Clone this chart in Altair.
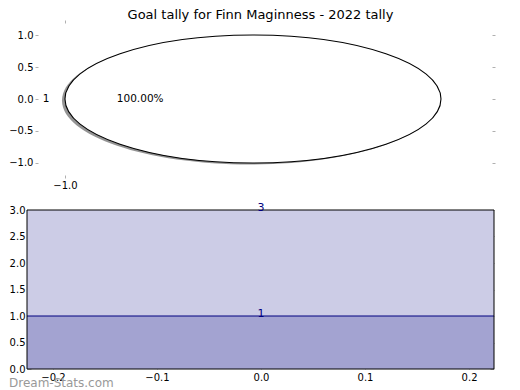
import altair as alt
import pandas as pd

TITLE = "Goal tally for Finn Maginness - 2022 tally"
WATERMARK = "Dream-Stats.com"

# pie data (one slice)
slice_labels = ["1"]
slice_values = [1]

# bottom panel levels
level_values = [1, 3]
level_labels = ["1", "3"]

top_x_ticks = [-1.0]
top_y_ticks = [-1.0, -0.5, 0.0, 0.5, 1.0]
bottom_x_ticks = [-0.2, -0.1, 0.0, 0.1, 0.2]
bottom_y_ticks = [0.0, 0.5, 1.0, 1.5, 2.0, 2.5, 3.0]

top_x_domain = [-1.202, 1.282]
top_y_domain = [-1.219, 1.219]
bottom_x_domain = [-0.225, 0.224]
bottom_y_domain = [0, 3]

FONT = "DejaVu Sans"
W = 467
H_TOP = 156
H_BOT = 159
NAVY = "#000080"
TICK_GRAY = "#b0b0b0"

ELLIPSE = ("M-1,0C-1,-0.188,-0.5523,-0.3404,0,-0.3404C0.5523,-0.3404,1,-0.188,1,0"
           "C1,0.188,0.5523,0.3404,0,0.3404C-0.5523,0.3404,-1,0.188,-1,0Z")
ELLIPSE_SIZE = 376 * 376

pie_df = pd.DataFrame({"label": slice_labels, "value": slice_values})

pie = (
    alt.Chart(pie_df)
    .transform_joinaggregate(total="sum(value)")
    .transform_window(cum="sum(value)")
    .transform_calculate(
        mid="2*PI*(datum.cum - datum.value/2)/datum.total",
        cx="0",
        cy="0",
        lx="1.1*cos(datum.mid)",
        ly="1.1*sin(datum.mid)",
        px="0.6*cos(datum.mid)",
        py="0.6*sin(datum.mid)",
        pct="format(100*datum.value/datum.total, '.2f') + '%'",
    )
)

tx_scale = alt.Scale(domain=top_x_domain, nice=False, zero=False)
ty_scale = alt.Scale(domain=top_y_domain, nice=False, zero=False)

shadow = pie.mark_point(
    shape=ELLIPSE, filled=True, fill="#4d4d4d", opacity=0.6, strokeWidth=0,
    xOffset=-3, yOffset=1.5,
).encode(
    x=alt.X("cx:Q", scale=tx_scale, axis=alt.Axis(
        orient="bottom", values=top_x_ticks, format=".1f", title=None, domain=False,
        grid=False, tickColor=TICK_GRAY, tickSize=3, offset=-2, labelPadding=2)),
    y=alt.Y("cy:Q", scale=ty_scale, axis=alt.Axis(
        orient="left", values=top_y_ticks, format=".1f", title=None, domain=False,
        grid=False, tickColor=TICK_GRAY, tickSize=3, offset=-11, labelPadding=2)),
    size=alt.value(ELLIPSE_SIZE),
)

ellipse = pie.mark_point(
    shape=ELLIPSE, filled=False, fill="white", fillOpacity=1, stroke="black",
    strokeWidth=1.1, opacity=1,
).encode(
    x=alt.X("cx:Q", scale=tx_scale, axis=alt.Axis(
        orient="top", values=top_x_ticks, labels=False, title=None, domain=False,
        grid=False, tickColor=TICK_GRAY, tickSize=3, offset=-2)),
    y=alt.Y("cy:Q", scale=ty_scale, axis=alt.Axis(
        orient="right", values=top_y_ticks, labels=False, title=None, domain=False,
        grid=False, tickColor=TICK_GRAY, tickSize=3, offset=-2)),
    size=alt.value(ELLIPSE_SIZE),
)

outer_lbl = pie.mark_text(font=FONT, fontSize=10.5, color="black", align="center", baseline="middle").encode(
    x=alt.X("lx:Q", scale=tx_scale, axis=None),
    y=alt.Y("ly:Q", scale=ty_scale, axis=None),
    text="label:N",
)
pct_lbl = pie.mark_text(font=FONT, fontSize=10.5, color="black", align="center", baseline="middle").encode(
    x=alt.X("px:Q", scale=tx_scale, axis=None),
    y=alt.Y("py:Q", scale=ty_scale, axis=None),
    text="pct:N",
)

top = (
    alt.layer(shadow, ellipse, outer_lbl, pct_lbl)
    .resolve_axis(x="independent", y="independent")
    .properties(
        width=W, height=H_TOP,
        title=alt.TitleParams(TITLE, font=FONT, fontSize=13, fontWeight="normal",
                              color="black", anchor="middle", offset=-2),
    )
)

# bottom panel
band_df = pd.DataFrame({"lo": [0] + level_values[:-1], "hi": level_values})
level_df = pd.DataFrame({"value": level_values, "label": level_labels})

bx_scale = alt.Scale(domain=bottom_x_domain, nice=False, zero=False)
by_scale = alt.Scale(domain=bottom_y_domain, nice=False, zero=False)

band_low = alt.Chart(band_df).transform_filter("datum.lo == 0").mark_rect(
    color="#a3a3d1", strokeWidth=0).encode(
    x=alt.value(0), x2=alt.value(W),
    y=alt.Y("lo:Q", scale=by_scale, axis=None), y2="hi:Q",
)
band_high = alt.Chart(band_df).transform_filter("datum.lo > 0").mark_rect(
    color="#ccccE6", strokeWidth=0).encode(
    x=alt.value(0), x2=alt.value(W),
    y=alt.Y("lo:Q", scale=by_scale, axis=None), y2="hi:Q",
)
rule = alt.Chart(level_df).transform_filter(
    alt.datum.value == level_values[0]).mark_rule(color=NAVY, strokeWidth=1).encode(
    y=alt.Y("value:Q", scale=by_scale, axis=None),
)
frame = alt.Chart(level_df).transform_filter(
    alt.datum.value == level_values[0]).mark_rect(
    filled=False, stroke="black", strokeWidth=1, fillOpacity=0).encode(
    x=alt.value(0), x2=alt.value(W), y=alt.value(0), y2=alt.value(H_BOT),
)

levels = alt.Chart(level_df).transform_calculate(tx="0")

lvl_text = levels.mark_text(font=FONT, fontSize=11, color=NAVY, align="center",
                            baseline="middle", dy=-2).encode(
    x=alt.X("tx:Q", scale=bx_scale, axis=alt.Axis(
        orient="bottom", values=bottom_x_ticks, format=".1f", title=None, domain=False,
        grid=False, tickColor=TICK_GRAY, tickSize=4, offset=-4, labelPadding=3)),
    y=alt.Y("value:Q", scale=by_scale, axis=alt.Axis(
        orient="left", values=bottom_y_ticks, format=".1f", title=None, domain=False,
        grid=False, tickColor=TICK_GRAY, tickSize=4, offset=-4, labelPadding=2)),
    text="label:N",
)
tick_carrier = levels.mark_point(opacity=0).encode(
    x=alt.X("tx:Q", scale=bx_scale, axis=alt.Axis(
        orient="top", values=bottom_x_ticks, labels=False, title=None, domain=False,
        grid=False, tickColor=TICK_GRAY, tickSize=4, offset=-4)),
    y=alt.Y("value:Q", scale=by_scale, axis=alt.Axis(
        orient="right", values=bottom_y_ticks, labels=False, title=None, domain=False,
        grid=False, tickColor=TICK_GRAY, tickSize=4, offset=-4)),
)
watermark = alt.Chart(level_df).transform_filter(alt.datum.value == level_values[0]).mark_text(
    font=FONT, fontSize=12, color="#999999", align="left", baseline="middle", text=WATERMARK,
).encode(x=alt.value(-18), y=alt.value(H_BOT + 14))

bottom = (
    alt.layer(band_low, band_high, rule, frame, tick_carrier, lvl_text, watermark)
    .resolve_axis(x="independent", y="independent")
    .properties(width=W, height=H_BOT)
)

chart = (
    alt.vconcat(top, bottom, spacing=12)
    .properties(padding=0)
    .configure(font=FONT)
    .configure_axis(labelFont=FONT, labelFontSize=10, labelColor="black")
    .configure_view(stroke=None)
)

chart.save("out.html", embed_options={"renderer": "svg", "actions": False})
